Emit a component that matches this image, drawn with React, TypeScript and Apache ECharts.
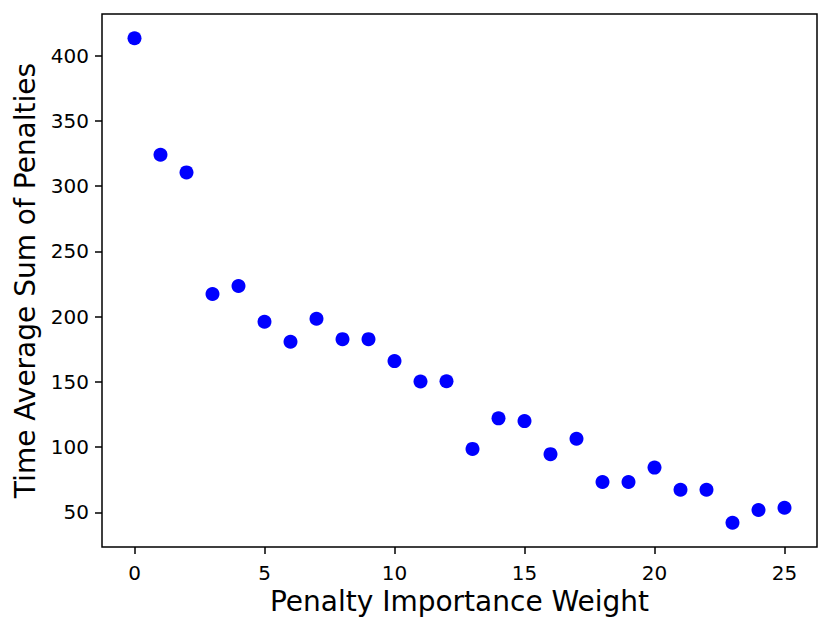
import React, { useEffect, useRef } from "react";
import * as echarts from "echarts";

const weights = [0, 1, 2, 3, 4, 5, 6, 7, 8, 9, 10, 11, 12, 13, 14, 15, 16, 17, 18, 19, 20, 21, 22, 23, 24, 25];
const penalties = [413.3, 324, 310.5, 217.3, 223.4, 196, 180.7, 198.3, 182.7, 182.7, 165.9, 150.3, 150.4, 98.6, 122, 119.9, 94.6, 106.4, 73.2, 73.2, 84.3, 67.3, 67.3, 42, 51.8, 53.5];
const xTicks = [0, 5, 10, 15, 20, 25];
const yTicks = [50, 100, 150, 200, 250, 300, 350, 400];
const xTitle = "Penalty Importance Weight";
const yTitle = "Time Average Sum of Penalties";

export default function App() {
  const ref = useRef<HTMLDivElement>(null);
  useEffect(() => {
    if (!ref.current) return;
    const chart = echarts.init(ref.current, null, { renderer: "svg" });
    const font = "DejaVu Sans";
    chart.setOption({
      animation: false,
      backgroundColor: "#ffffff",
      grid: {
        left: 102,
        right: 14,
        top: 14,
        bottom: 83,
        show: true,
        borderColor: "#000000",
        borderWidth: 1.5,
        backgroundColor: "transparent",
      },
      xAxis: {
        type: "value",
        min: -1.25,
        max: 26.25,
        name: xTitle,
        nameLocation: "middle",
        nameGap: 38,
        nameTextStyle: { fontFamily: font, fontSize: 28, color: "#000" },
        axisLine: { show: false, onZero: false },
        splitLine: { show: false },
        axisTick: {
          show: true,
          length: 7,
          lineStyle: { color: "#000", width: 1.5 },
          customValues: xTicks,
        },
        axisLabel: {
          fontFamily: font,
          fontSize: 20,
          color: "#000",
          margin: 16,
          customValues: xTicks,
        },
      },
      yAxis: {
        type: "value",
        min: 23.43,
        max: 431.87,
        name: yTitle,
        nameLocation: "middle",
        nameGap: 61,
        nameTextStyle: { fontFamily: font, fontSize: 28, color: "#000" },
        axisLine: { show: false, onZero: false },
        splitLine: { show: false },
        axisTick: {
          show: true,
          length: 7,
          lineStyle: { color: "#000", width: 1.5 },
          customValues: yTicks,
        },
        axisLabel: {
          fontFamily: font,
          fontSize: 20,
          color: "#000",
          margin: 13,
          customValues: yTicks,
        },
      },
      series: [
        {
          type: "scatter",
          data: weights.map((w, i) => [w, penalties[i]]),
          symbol: "circle",
          symbolSize: 14,
          itemStyle: { color: "#0000ff", opacity: 1 },
        },
      ],
    });
    return () => chart.dispose();
  }, []);
  return (
    <div
      ref={ref}
      style={{ position: "fixed", left: 0, top: 0, width: 831, height: 630 }}
    />
  );
}
